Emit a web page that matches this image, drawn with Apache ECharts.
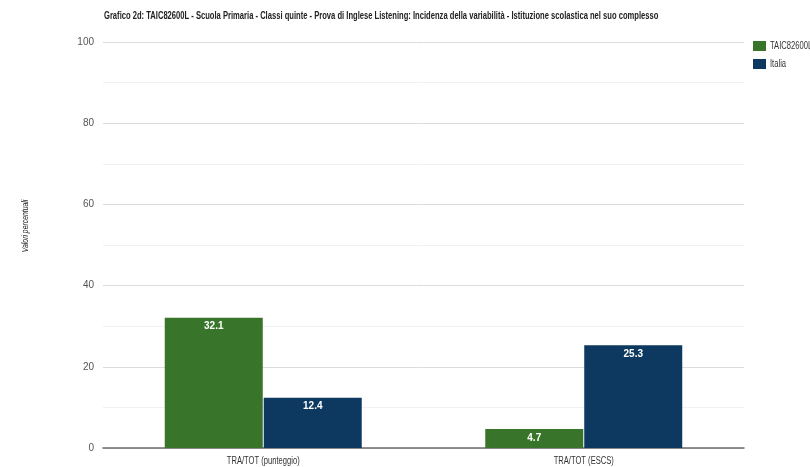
<!DOCTYPE html>
<html><head><meta charset="utf-8">
<script src="https://cdn.jsdelivr.net/npm/echarts@6/dist/echarts.min.js"></script>
<style>html,body{margin:0;padding:0;background:#fff}#c{width:810px;height:467px}</style>
</head><body><div id="c"></div>
<script>
const titleText = "Grafico 2d: TAIC82600L - Scuola Primaria - Classi quinte - Prova di Inglese Listening: Incidenza della variabilità - Istituzione scolastica nel suo complesso";
const categories = ["TRA/TOT (punteggio)", "TRA/TOT (ESCS)"];
const seriesNames = ["TAIC82600L", "Italia"];
const schoolValues = [32.1, 4.7];
const italiaValues = [12.4, 25.3];
const yTicks = [0, 20, 40, 60, 80, 100];
const yTitle = "Valori percentuali";

const FONT = '"Liberation Sans", Arial, sans-serif';
const NARROW = 0.76; // emulate a condensed (Arial Narrow-like) face
const colors = ['#38742a', '#0d385f'];
const chart = echarts.init(document.getElementById('c'), null, {renderer: 'canvas'});
const labelCfg = {show: true, position: 'insideTop', color: '#fff', fontFamily: FONT, fontSize: 10, fontWeight: 'bold', distance: 4};

function narrowText(text, x, y, opts) {
  return Object.assign({
    type: 'text', x: x, y: y, scaleX: NARROW, silent: true,
    style: Object.assign({text: text, fontFamily: FONT, fontSize: 10, fill: '#222', align: 'left', verticalAlign: 'middle'}, opts.style || {})
  }, opts.el || {});
}

chart.setOption({
  animation: false,
  legend: {
    data: seriesNames, orient: 'vertical', left: 748, top: 36, itemWidth: 13, itemHeight: 10, itemGap: 8,
    formatter: () => ' ', textStyle: {fontSize: 10}, icon: 'rect', selectedMode: false
  },
  grid: {left: 103, right: 66, top: 42, bottom: 19, containLabel: false},
  xAxis: {
    type: 'category', data: categories,
    axisLine: {lineStyle: {color: '#6e6e6e', width: 1.5}}, axisTick: {show: false},
    axisLabel: {show: false}
  },
  yAxis: {
    type: 'value', min: 0, max: 100, interval: 20,
    axisLine: {show: false}, axisTick: {show: false},
    axisLabel: {fontFamily: FONT, fontSize: 10, color: '#555', margin: 9, formatter: v => yTicks.includes(v) ? String(v) : ''},
    splitLine: {lineStyle: {color: '#dcdcdc', width: 1}},
    minorTick: {show: false, splitNumber: 2},
    minorSplitLine: {show: true, lineStyle: {color: '#f1f1f1', width: 1}}
  },
  series: [
    {name: seriesNames[0], type: 'bar', data: schoolValues, barWidth: 98, barGap: '1%', itemStyle: {color: colors[0]}, label: labelCfg},
    {name: seriesNames[1], type: 'bar', data: italiaValues, barWidth: 98, itemStyle: {color: colors[1]}, label: labelCfg}
  ]
});

// Text drawn with a condensed look, positioned from the chart's own scales
const gfx = [];
gfx.push(narrowText(titleText, 104, 16, {style: {fontWeight: 'bold', fill: '#222'}}));
categories.forEach((c, i) => {
  const px = chart.convertToPixel({xAxisIndex: 0}, c);
  const py = chart.convertToPixel({yAxisIndex: 0}, 0);
  gfx.push(narrowText(c, px, py + 13, {style: {align: 'center', fill: '#333'}}));
});
seriesNames.forEach((n, i) => {
  gfx.push(narrowText(n, 770, 46 + i * 18, {style: {fill: '#333'}}));
});
gfx.push({
  type: 'text', x: 25, y: 226, rotation: Math.PI / 2, scaleX: NARROW, silent: true,
  style: {text: yTitle, fontFamily: FONT, fontSize: 9, fontStyle: 'italic', fill: '#222', align: 'center', verticalAlign: 'middle'}
});
chart.setOption({graphic: gfx});
</script></body></html>
